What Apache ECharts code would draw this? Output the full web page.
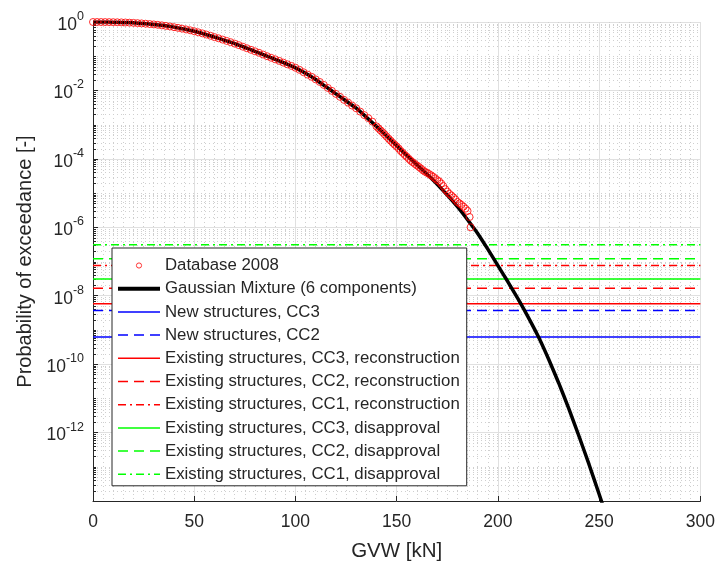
<!DOCTYPE html>
<html><head><meta charset="utf-8">
<script src="https://cdn.jsdelivr.net/npm/echarts@6/dist/echarts.min.js"></script>
<style>html,body{margin:0;padding:0;background:#fff}#c{width:718px;height:567px}</style>
</head><body><div id="c"></div>
<script>
// Gaussian mixture exceedance curve (x in kN, probability)
const gmX = [0,5,10,15,20,25,30,35,40,45,50,55,60,65,70,75,80,85,90,95,100,105,110,115,120,125,130,135,140,145,150,155,160,165,170,175,180,185,190,195,200,205,210,215,220,225,230,235,240,245,250,255];
const gmP = [1,0.998,0.989,0.973,0.944,0.902,0.851,0.785,0.708,0.624,0.537,0.447,0.363,0.292,0.234,0.18,0.138,0.106,0.0813,0.0617,0.0457,0.0316,0.0209,0.0129,0.00794,0.0049,0.00302,0.00166,8.91e-4,4.68e-4,2.4e-4,1.26e-4,6.76e-5,3.55e-5,1.82e-5,8.71e-6,3.98e-6,1.66e-6,6.61e-7,2.29e-7,7.59e-8,2.51e-8,7.94e-9,2.34e-9,6.31e-10,1.41e-10,2.82e-11,5.01e-12,7.94e-13,1.17e-13,1.58e-14,2e-15];

// Database 2008 empirical exceedance
const dbX = [0,2,4,6,8,10,12,14,16,18,20,22,24,26,28,30,32,34,36,38,40,42,44,46,48,50,52,54,56,58,60,62,64,66,68,70,72,74,76,78,80,82,84,86,88,90,92,94,96,98,100,102,104,106,108,110,112,114,116,118,120,122,124,126,128,130,132,134,136,138,140,141,142,143,144,145,146,147,148,149,150,151,152,153,154,155,156,157,158,159,160,161,162,163,164,165,166,167,168,169,170,171,172,173,174,175,176,177,178,179,180,181,182,183,184,185,186,186.5];
const dbP = [1.0,0.999,0.997,0.995,0.992,0.988,0.982,0.975,0.966,0.955,0.943,0.927,0.91,0.891,0.871,0.85,0.826,0.798,0.77,0.74,0.706,0.674,0.64,0.606,0.572,0.536,0.5,0.465,0.43,0.396,0.362,0.334,0.306,0.28,0.257,0.233,0.211,0.19,0.171,0.154,0.139,0.126,0.112,0.1,0.09,0.081,0.073,0.065,0.058,0.052,0.046,0.04,0.034,0.029,0.025,0.021,0.0177,0.0145,0.0118,0.0097,0.0079,0.0065,0.0053,0.0044,0.0036,0.003,0.0024,0.0019,0.00155,0.00122,8.9e-4,7.8e-4,6.8e-4,6.0e-4,5.2e-4,4.5e-4,3.9e-4,3.4e-4,2.95e-4,2.6e-4,2.3e-4,2.0e-4,1.7e-4,1.5e-4,1.3e-4,1.15e-4,1.0e-4,8.8e-5,7.9e-5,7.1e-5,6.4e-5,5.8e-5,5.2e-5,4.6e-5,4.2e-5,3.9e-5,3.6e-5,3.3e-5,3.0e-5,2.7e-5,2.4e-5,2.2e-5,1.9e-5,1.6e-5,1.3e-5,1.1e-5,9.5e-6,8.5e-6,7.5e-6,6.5e-6,5.5e-6,5e-6,4.5e-6,4e-6,3.5e-6,3e-6,2e-6,1e-6];

// Target probability levels
const refNames = ['New structures, CC3','New structures, CC2','Existing structures, CC3, reconstruction','Existing structures, CC2, reconstruction','Existing structures, CC1, reconstruction','Existing structures, CC3, disapproval','Existing structures, CC2, disapproval','Existing structures, CC1, disapproval'];
const refValues = [6.2e-10,3.7e-9,5.8e-9,1.66e-8,7.6e-8,3.1e-8,1.2e-7,3.1e-7];
const refColors = ['#0000ff','#0000ff','#ff0000','#ff0000','#ff0000','#00ff00','#00ff00','#00ff00'];
const refStyles = ['solid','dashed','solid','dashed','dashdot','solid','dashed','dashdot'];
const xRange = [0, 300];

const dashMap = {solid:'solid', dashed:[10,6], dashdot:[8,4,2,4]};
const FONT = "'Liberation Sans', Arial, Helvetica, sans-serif";
const TXT = '#262626';

// minor log grid positions
const minorGrid = [];
for (let e = -14; e < 0; e++) {
  for (let m = 1; m <= 9; m++) {
    if (m === 1 && (e % 2 === 0)) continue;
    minorGrid.push([0, m * Math.pow(10, e)]);
  }
}

const chart = echarts.init(document.getElementById('c'), null, {renderer:'canvas'});

const series = [];
series.push({
  type:'custom', name:'_minor', silent:true, z:1, clip:true,
  renderItem:function(params, api){
    const cs = params.coordSys;
    const y = Math.round(api.coord([0, api.value(1)])[1]) + 0.5;
    return {type:'group', children:[
      {type:'line', shape:{x1:cs.x, y1:y, x2:cs.x+cs.width, y2:y}, style:{stroke:'#cfcfcf', lineWidth:1, lineDash:[1,3]}},
      {type:'line', shape:{x1:cs.x, y1:y, x2:cs.x+3, y2:y}, style:{stroke:TXT, lineWidth:1}}
    ]};
  },
  data:minorGrid
});
series.push({
  type:'scatter', name:'Database 2008', z:2,
  symbol:'circle', symbolSize:7,
  itemStyle:{color:'rgba(255,255,255,0)', borderColor:'#ff0000', borderWidth:1},
  data:dbX.map((x,i)=>[x, dbP[i]])
});
refNames.forEach((n,i)=>{
  series.push({
    type:'line', name:n, z:2, symbol:'none', color:refColors[i],
    lineStyle:{color:refColors[i], width:1.5, type:dashMap[refStyles[i]]},
    data:[[xRange[0], refValues[i]],[xRange[1], refValues[i]]]
  });
});
series.push({
  type:'line', name:'Gaussian Mixture (6 components)', z:2, symbol:'none', smooth:0.2, color:'#000',
  lineStyle:{color:'#000', width:3.5}, clip:true,
  data:gmX.map((x,i)=>[x, gmP[i]])
});

const dbIcon = 'image://data:image/svg+xml;charset=utf-8,' + encodeURIComponent('<svg xmlns="http://www.w3.org/2000/svg" width="42" height="14" viewBox="0 0 42 14"><circle cx="21" cy="7" r="2.6" fill="none" stroke="#ff0000" stroke-width="1"/></svg>');
const hidden = {color:'rgba(0,0,0,0)', borderColor:'rgba(0,0,0,0)', borderWidth:0};

const legendData = [{name:'Database 2008', icon:dbIcon},
  {name:'Gaussian Mixture (6 components)', itemStyle:hidden, lineStyle:{width:4, color:'#000', type:'solid'}}]
  .concat(refNames.map((n,i)=>({name:n, itemStyle:hidden, lineStyle:{width:1.5, color:refColors[i], type:dashMap[refStyles[i]]}})));

chart.setOption({
  animation:false,
  backgroundColor:'#fff',
  textStyle:{fontFamily:FONT},
  grid:{left:93, top:22, width:609, height:481},
  legend:{
    z:20, zlevel:0,
    orient:'vertical', left:112, top:248, itemWidth:42, itemHeight:14, itemGap:6.2,
    padding:[9,7,3,4], backgroundColor:'#fff', borderColor:TXT, borderWidth:1,
    textStyle:{fontSize:16.8, color:TXT, fontFamily:FONT, lineHeight:14},
    selectedMode:false,
    data:legendData
  },
  xAxis:{
    type:'value', min:0, max:300, interval:50,
    name:'GVW [kN]', nameLocation:'middle', nameGap:40,
    nameTextStyle:{fontSize:20.5, color:TXT, fontFamily:FONT},
    axisLine:{show:true, onZero:false, lineStyle:{color:TXT, width:1}},
    axisTick:{show:true, inside:true, length:5, lineStyle:{color:TXT}},
    axisLabel:{fontSize:17.5, color:TXT, margin:12, fontFamily:FONT},
    splitLine:{show:true, lineStyle:{color:'#e0e0e0', width:1}},
    minorTick:{show:false, splitNumber:10},
    minorSplitLine:{show:true, lineStyle:{color:'#cfcfcf', width:1, type:[1,3]}}
  },
  yAxis:{
    type:'log', logBase:10, min:1e-14, max:1, interval:2,
    name:'Probability of exceedance [-]', nameLocation:'middle', nameGap:58,
    nameTextStyle:{fontSize:20, color:TXT, fontFamily:FONT},
    axisLine:{show:true, onZero:false, lineStyle:{color:TXT, width:1}},
    axisTick:{show:true, inside:true, length:5, lineStyle:{color:TXT}},
    axisLabel:{margin:9, color:TXT, fontFamily:FONT,
      formatter:function(v){
        const e = Math.round(Math.log10(v));
        if (e <= -14) return '';
        return '{b|10}{s|' + e + '}';
      },
      rich:{b:{fontSize:17.5, padding:[6,0,0,0], color:TXT, fontFamily:FONT}, s:{fontSize:12.5, verticalAlign:'top', color:TXT, fontFamily:FONT}}
    },
    splitLine:{show:true, lineStyle:{color:'#e0e0e0', width:1}}
  },
  series:series
});
</script></body></html>
